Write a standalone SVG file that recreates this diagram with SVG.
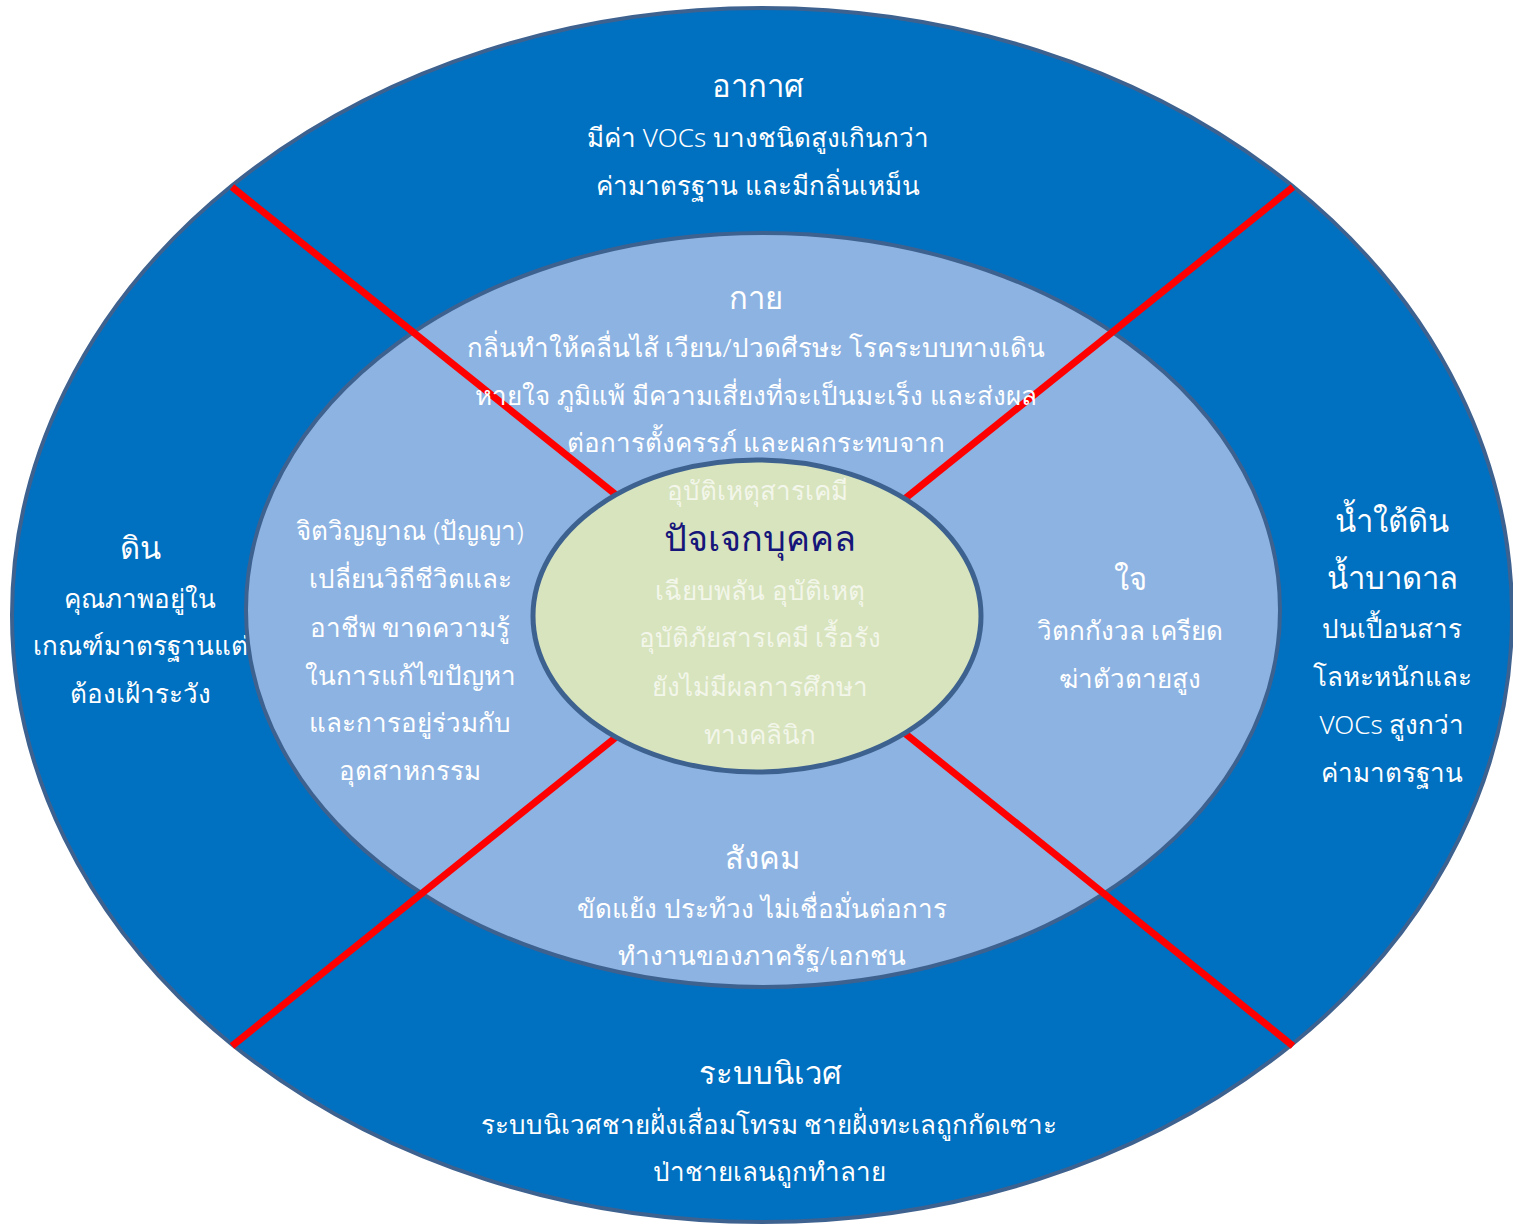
<svg xmlns="http://www.w3.org/2000/svg" width="1513" height="1224" viewBox="0 0 1513 1224">
<style>
text{font-family:"Noto Sans","DejaVu Sans",sans-serif;text-anchor:middle;dominant-baseline:central;font-weight:300;}
.w{fill:#FFFFFF;font-size:26px;}
.t{fill:#FFFFFF;font-size:31px;}
.big{fill:#FFFFFF;font-size:31px;}
.p{fill:#F3F6EA;font-size:26px;}
.core{fill:#15157A;font-size:36px;}
.ring{stroke:#3E6290;}
.red{stroke:#FF0000;stroke-width:7;}
</style>
<rect width="1513" height="1224" fill="#FFFFFF"/>
<g id="outer">
<ellipse cx="762" cy="615" rx="750" ry="607" fill="#0070C0" class="ring" stroke-width="4"/>
<g id="air"><text class="t" x="758" y="85">อากาศ</text><text class="w" x="758" y="137">มีค่า VOCs บางชนิดสูงเกินกว่า</text><text class="w" x="758" y="185">ค่ามาตรฐาน และมีกลิ่นเหม็น</text></g>
<g id="soil"><text class="t" x="140" y="547">ดิน</text><text class="w" x="140" y="598">คุณภาพอยู่ใน</text><text class="w" x="140" y="645">เกณฑ์มาตรฐานแต่</text><text class="w" x="140" y="693">ต้องเฝ้าระวัง</text></g>
<g id="groundwater"><text class="big" x="1392" y="520">น้ำใต้ดิน</text><text class="big" x="1392" y="577">น้ำบาดาล</text><text class="w" x="1392" y="628">ปนเปื้อนสาร</text><text class="w" x="1392" y="676">โลหะหนักและ</text><text class="w" x="1392" y="724">VOCs สูงกว่า</text><text class="w" x="1392" y="772">ค่ามาตรฐาน</text></g>
<g id="ecosystem"><text class="t" x="770" y="1072">ระบบนิเวศ</text><text class="w" x="769" y="1124">ระบบนิเวศชายฝั่งเสื่อมโทรม ชายฝั่งทะเลถูกกัดเซาะ</text><text class="w" x="769" y="1171">ป่าชายเลนถูกทำลาย</text></g>
</g>
<g id="middle">
<ellipse cx="763" cy="610" rx="517" ry="377" fill="#8DB3E2" class="ring" stroke-width="4"/>
</g>
<g id="connectors">
<line class="red" x1="232" y1="187" x2="620" y2="498"/>
<line class="red" x1="1293" y1="187" x2="902" y2="501"/>
<line class="red" x1="232" y1="1046" x2="620" y2="734"/>
<line class="red" x1="1293" y1="1046" x2="902" y2="731"/>
</g>
<g id="middle-text">
<g id="body"><text class="t" x="756" y="297">กาย</text><text class="w" x="756" y="347">กลิ่นทำให้คลื่นไส้ เวียน/ปวดศีรษะ โรคระบบทางเดิน</text><text class="w" x="756" y="395">หายใจ ภูมิแพ้ มีความเสี่ยงที่จะเป็นมะเร็ง และส่งผล</text><text class="w" x="756" y="442">ต่อการตั้งครรภ์ และผลกระทบจาก</text></g>
<g id="spirit"><text class="w" x="410" y="530">จิตวิญญาณ (ปัญญา)</text><text class="w" x="410" y="578">เปลี่ยนวิถีชีวิตและ</text><text class="w" x="410" y="627">อาชีพ ขาดความรู้</text><text class="w" x="410" y="675">ในการแก้ไขปัญหา</text><text class="w" x="410" y="722">และการอยู่ร่วมกับ</text><text class="w" x="410" y="770">อุตสาหกรรม</text></g>
<g id="mind"><text class="t" x="1130" y="578">ใจ</text><text class="w" x="1130" y="630">วิตกกังวล เครียด</text><text class="w" x="1130" y="678">ฆ่าตัวตายสูง</text></g>
<g id="society"><text class="t" x="762" y="857">สังคม</text><text class="w" x="762" y="908">ขัดแย้ง ประท้วง ไม่เชื่อมั่นต่อการ</text><text class="w" x="762" y="955">ทำงานของภาครัฐ/เอกชน</text></g>
</g>
<g id="individual">
<ellipse cx="757" cy="616" rx="224" ry="156" fill="#D7E4BD" class="ring" stroke-width="5"/>
<text class="p" x="757" y="490">อุบัติเหตุสารเคมี</text>
<text class="core" x="760" y="537">ปัจเจกบุคคล</text>
<text class="p" x="760" y="590">เฉียบพลัน อุบัติเหตุ</text>
<text class="p" x="760" y="637">อุบัติภัยสารเคมี เรื้อรัง</text>
<text class="p" x="760" y="686">ยังไม่มีผลการศึกษา</text>
<text class="p" x="760" y="734">ทางคลินิก</text>
</g>
</svg>
